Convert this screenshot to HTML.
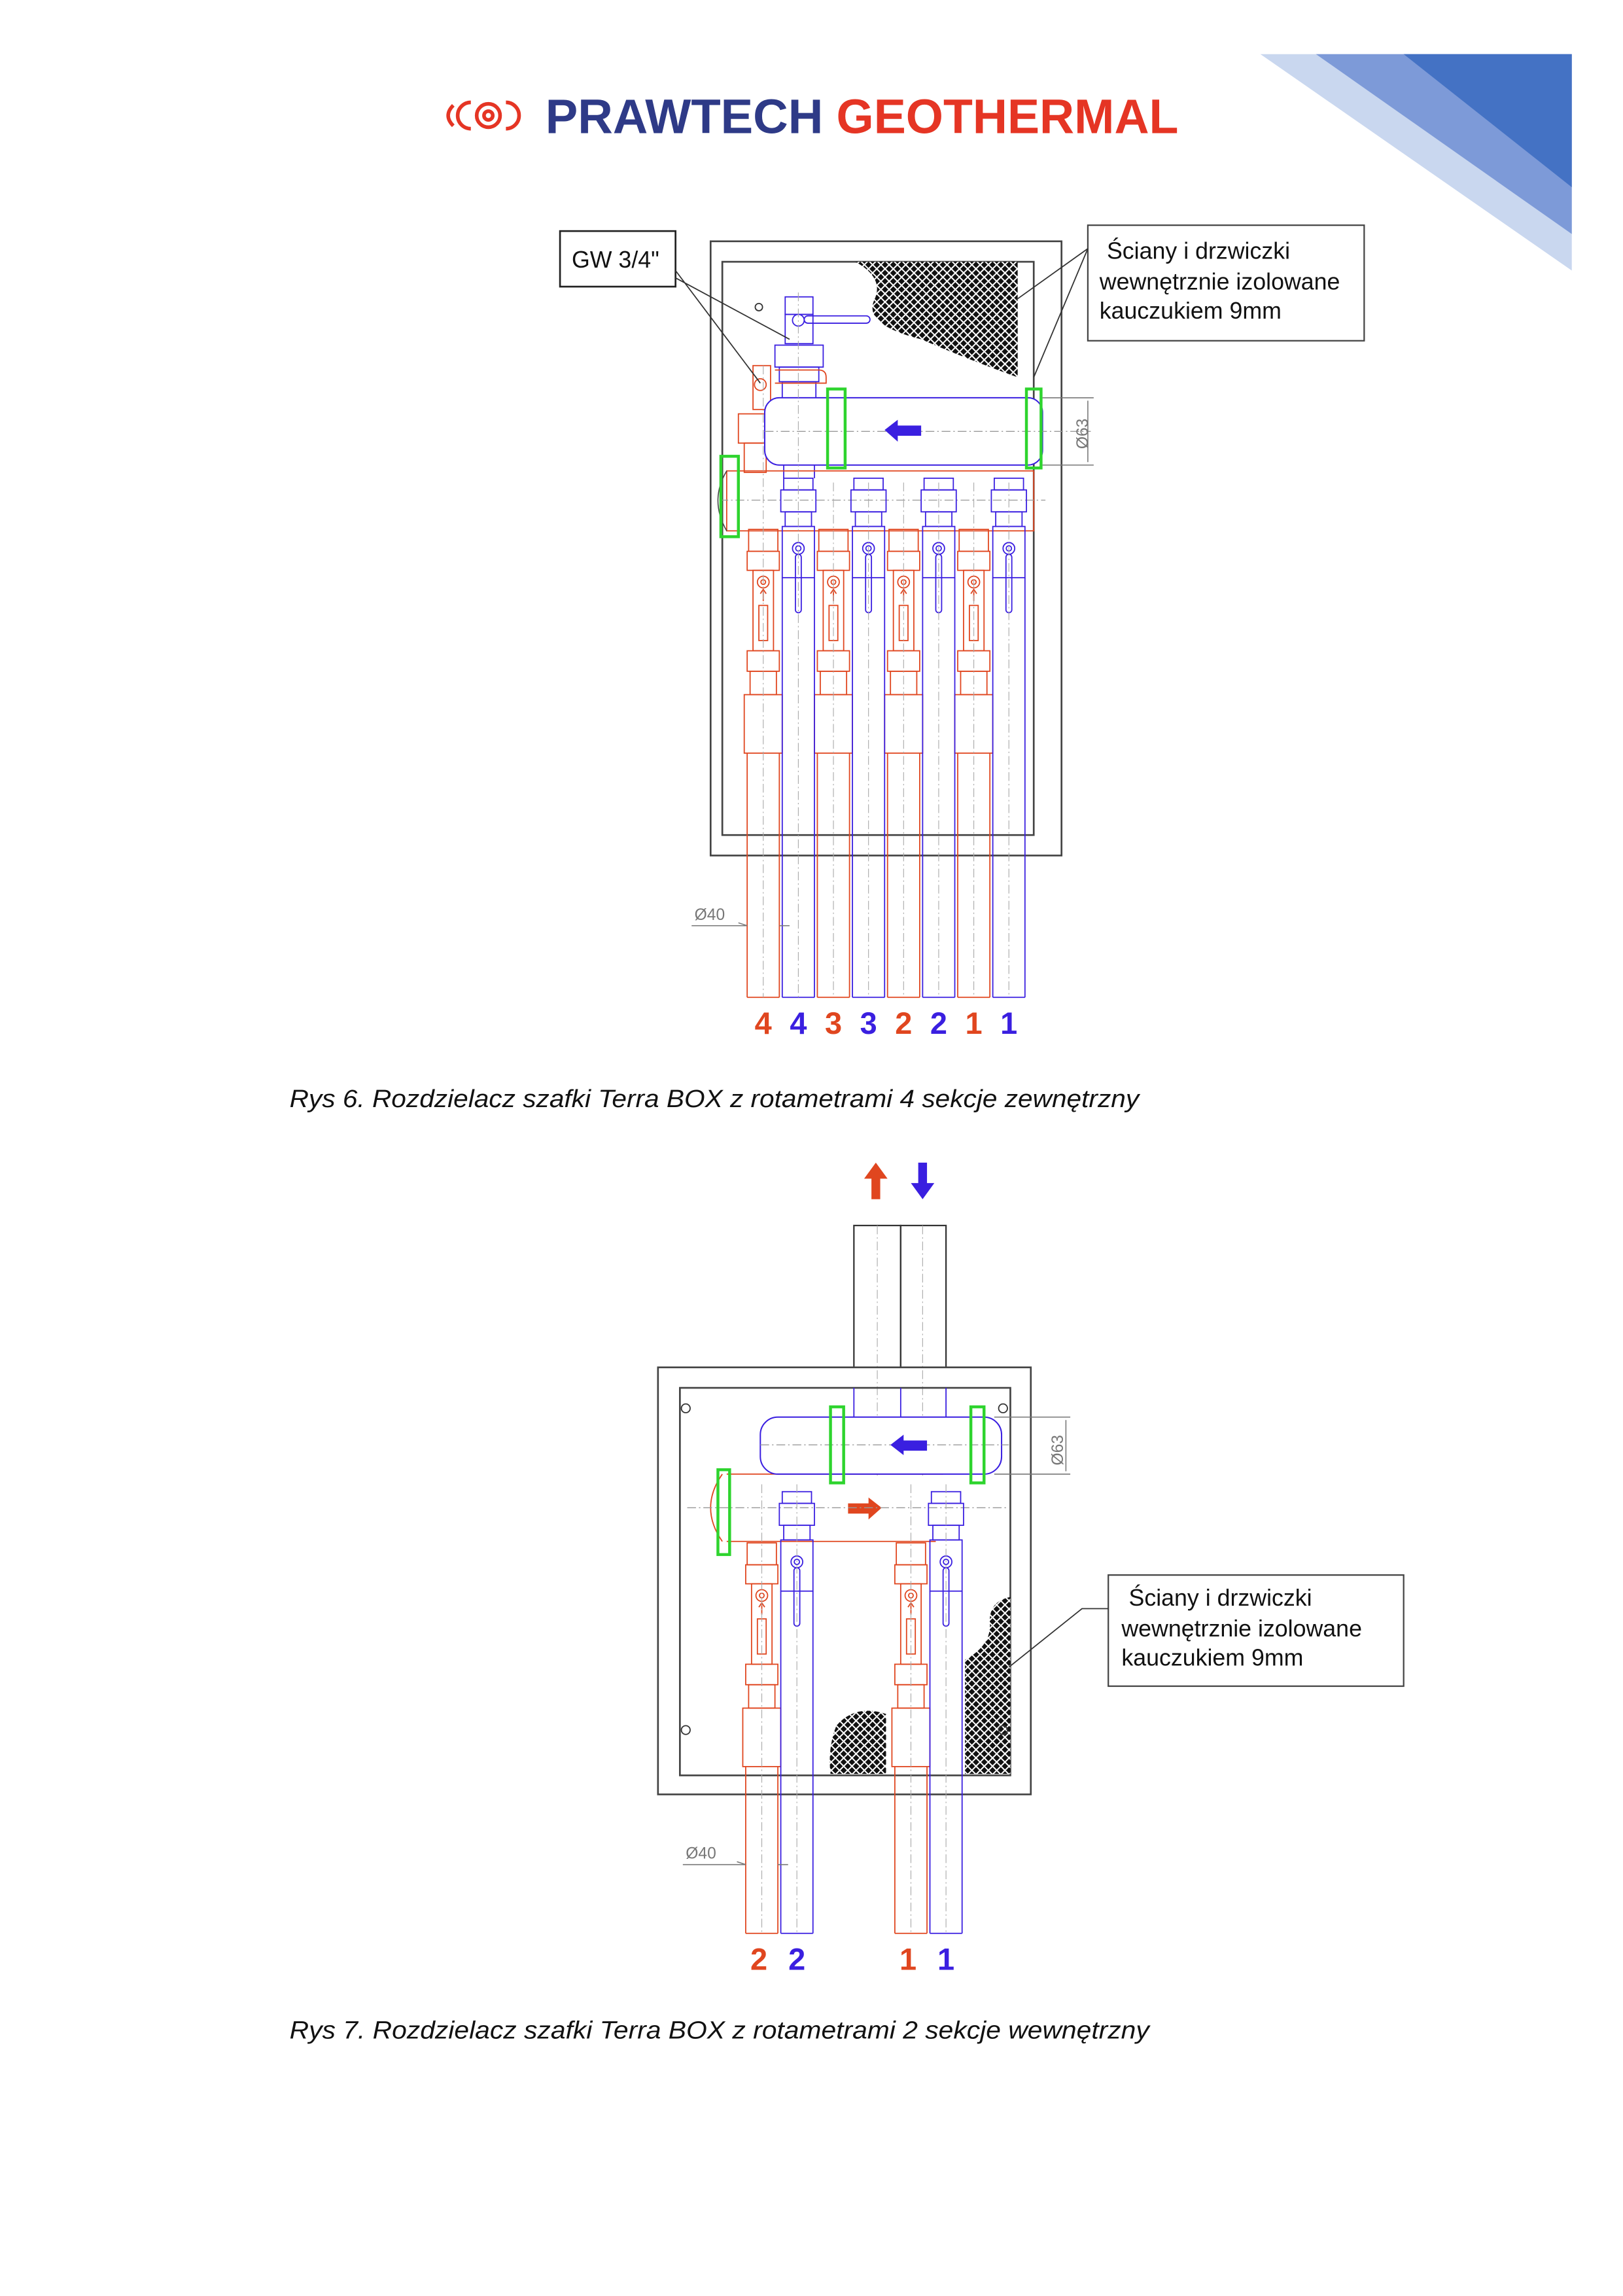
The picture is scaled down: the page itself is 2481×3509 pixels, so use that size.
<!DOCTYPE html>
<html><head><meta charset="utf-8"><style>html,body{margin:0;padding:0;background:#fff}svg{display:block}</style></head>
<body>
<svg width="2481" height="3509" viewBox="0 0 1110 1570" xmlns="http://www.w3.org/2000/svg" font-family="Liberation Sans, sans-serif">
<defs>
<pattern id="hatch" width="4" height="4" patternUnits="userSpaceOnUse" patternTransform="rotate(45)">
<rect width="4" height="4" fill="#111"/>
<path d="M0 2H4M2 0V4" stroke="#fff" stroke-width="0.9"/>
</pattern>
<g id="sec">
<g fill="none" stroke="#e0461f" stroke-width="0.8">
<rect x="-10" y="362" width="20" height="15"/>
<rect x="-11" y="377" width="22" height="13"/>
<rect x="-7" y="390" width="14" height="55"/>
<circle cx="0" cy="398" r="4"/><circle cx="0" cy="398" r="1.6"/>
<path d="M0 404V411M-2 406L0 403L2 406"/>
<rect x="-3" y="414" width="6" height="24"/>
<rect x="-11" y="445" width="22" height="14"/>
<rect x="-9" y="459" width="18" height="16"/>
<rect x="-13" y="475" width="26" height="40"/>
</g>
<g fill="none" stroke="#3a1fe0" stroke-width="0.8">
<rect x="14" y="327" width="20" height="8"/>
<rect x="12" y="335" width="24" height="15"/>
<rect x="15" y="350" width="18" height="10"/>
<rect x="13" y="360" width="22" height="35"/>
<circle cx="24" cy="375" r="4"/><circle cx="24" cy="375" r="1.8"/>
<rect x="22" y="379" width="4" height="40" rx="2"/>
</g>
</g>
</defs>

<!-- top right decoration -->
<polygon points="862,37 1075,37 1075,185" fill="#c9d7ef"/>
<polygon points="900,37 1075,37 1075,160" fill="#7d9ad8"/>
<polygon points="960,37 1075,37 1075,128" fill="#4472c4"/>

<!-- logo -->
<g fill="none" stroke="#e53524" stroke-width="2.5">
<path d="M322 70 A9 9 0 1 0 322 88"/>
<circle cx="334" cy="79" r="8"/>
<circle cx="334" cy="79" r="3"/>
<path d="M346 70 A9 9 0 1 1 346 88"/>
<path d="M310 72 Q303 79 310 86"/>
</g>
<text x="373" y="91" font-size="33" font-weight="bold" fill="#2e3a87" textLength="190" lengthAdjust="spacingAndGlyphs">PRAWTECH</text>
<text x="572" y="91" font-size="33" font-weight="bold" fill="#e53524" textLength="234" lengthAdjust="spacingAndGlyphs">GEOTHERMAL</text>

<!-- ================= DIAGRAM 1 ================= -->
<rect x="486" y="165" width="240" height="420" fill="none" stroke="#444" stroke-width="1.2"/>
<rect x="494" y="179" width="213" height="392" fill="none" stroke="#444" stroke-width="1.2"/>
<path d="M585 179 H696 V258 Q660 245 630 232 Q590 222 598 205 Q605 190 585 179Z" fill="url(#hatch)"/>
<!-- top ball valve -->
<g fill="none" stroke="#3a1fe0" stroke-width="0.8">
<rect x="537" y="203" width="19" height="12"/>
<rect x="537" y="215" width="19" height="20"/>
<circle cx="546" cy="219" r="4"/>
<rect x="550" y="216" width="45" height="5" rx="2.5"/>
<rect x="530" y="236" width="33" height="15"/>
<rect x="533" y="251" width="27" height="10"/>
<rect x="535" y="261" width="23" height="12"/>
<path d="M536 318V327M557 318V327"/>
</g>
<g fill="none" stroke="#e0461f" stroke-width="0.8">
<rect x="515" y="250" width="12" height="30"/>
<circle cx="520" cy="263" r="4"/>
<rect x="505" y="283" width="18" height="20"/>
<rect x="509" y="303" width="15" height="20"/>
<path d="M530 253H560Q565 253 565 258V262H530"/>
</g>
<circle cx="519" cy="210" r="2.5" fill="none" stroke="#333" stroke-width="0.8"/>
<!-- red manifold lower -->
<rect x="497" y="322" width="210" height="41" fill="none" stroke="#e0461f" stroke-width="0.8"/>
<path d="M497 322 Q485 342 497 363" fill="none" stroke="#444" stroke-width="0.7"/>
<!-- blue manifold -->
<rect x="523" y="272" width="190" height="46" rx="10" fill="#fff" stroke="#3a1fe0" stroke-width="0.9"/>
<path d="M523 295H746M492 342H715" stroke="#999" stroke-width="0.6" stroke-dasharray="6 2 1 2"/>
<polygon points="605,294 614,287 614,291 630,291 630,298 614,298 614,302" fill="#3a1fe0"/>
<rect x="566" y="266" width="12" height="54" fill="none" stroke="#2ed42e" stroke-width="2"/>
<rect x="702" y="266" width="10" height="54" fill="none" stroke="#2ed42e" stroke-width="2"/>
<rect x="493" y="312" width="12" height="55" fill="none" stroke="#2ed42e" stroke-width="2"/>
<!-- Ø63 -->
<path d="M713 272H748M713 318H748M744 274V316" stroke="#777" stroke-width="0.7" fill="none"/>
<text transform="translate(744,307) rotate(-90)" font-size="11" fill="#777">Ø63</text>
<!-- sections -->
<use href="#sec" x="522"/><use href="#sec" x="570"/><use href="#sec" x="618"/><use href="#sec" x="666"/>
<g fill="none" stroke-width="0.8">
<g stroke="#e0461f"><path d="M511 515V682M533 515V682M559 515V682M581 515V682M607 515V682M629 515V682M655 515V682M677 515V682M511 682H533M559 682H581M607 682H629M655 682H677"/></g>
<g stroke="#3a1fe0"><path d="M535 395V682M557 395V682M583 395V682M605 395V682M631 395V682M653 395V682M679 395V682M701 395V682M535 682H557M583 682H605M631 682H653M679 682H701"/></g>
</g>
<g stroke="#aaa" stroke-width="0.5" stroke-dasharray="6 2 1 2">
<path d="M522 250V682M546 200V682M570 330V682M594 330V682M618 330V682M642 330V682M666 330V682M690 330V682"/>
</g>
<!-- Ø40 -->
<path d="M473 633H511M511 633L505 631M533 633H540" stroke="#777" stroke-width="0.7" fill="none"/>
<text x="475" y="629" font-size="11" fill="#777">Ø40</text>
<!-- GW label -->
<rect x="383" y="158" width="79" height="38" fill="#fff" stroke="#222" stroke-width="1.2"/>
<text x="391" y="183" font-size="16" fill="#111">GW 3/4"</text>
<path d="M462 185L520 262M462 190L540 232" stroke="#333" stroke-width="0.8" fill="none"/>
<!-- walls label -->
<rect x="744" y="154" width="189" height="79" fill="#fff" stroke="#444" stroke-width="1"/>
<text font-size="16" fill="#111"><tspan x="757" y="177">Ściany i drzwiczki</tspan><tspan x="752" y="198">wewnętrznie izolowane</tspan><tspan x="752" y="218">kauczukiem 9mm</tspan></text>
<path d="M744 170L695 205M744 170L707 258" stroke="#333" stroke-width="0.8" fill="none"/>
<!-- numbers -->
<g font-size="21" font-weight="bold" text-anchor="middle">
<text x="522" y="707" fill="#e0461f">4</text><text x="546" y="707" fill="#3a1fe0">4</text>
<text x="570" y="707" fill="#e0461f">3</text><text x="594" y="707" fill="#3a1fe0">3</text>
<text x="618" y="707" fill="#e0461f">2</text><text x="642" y="707" fill="#3a1fe0">2</text>
<text x="666" y="707" fill="#e0461f">1</text><text x="690" y="707" fill="#3a1fe0">1</text>
</g>
<text x="198" y="757" font-size="17" font-style="italic" fill="#111" textLength="581" lengthAdjust="spacingAndGlyphs">Rys 6. Rozdzielacz szafki Terra BOX z rotametrami 4 sekcje zewnętrzny</text>

<!-- ================= DIAGRAM 2 ================= -->
<polygon points="599,795 607,806 602,806 602,820 596,820 596,806 591,806" fill="#e0461f"/>
<polygon points="631,820 639,809 634,809 634,795 628,795 628,809 623,809" fill="#3a1fe0"/>
<rect x="584" y="838" width="32" height="97" fill="none" stroke="#333" stroke-width="1"/>
<rect x="616" y="838" width="31" height="97" fill="none" stroke="#333" stroke-width="1"/>
<path d="M600 838V1010M631 838V1010" stroke="#aaa" stroke-width="0.5" stroke-dasharray="6 2 1 2"/>
<rect x="450" y="935" width="255" height="292" fill="none" stroke="#444" stroke-width="1.2"/>
<rect x="465" y="949" width="226" height="265" fill="none" stroke="#444" stroke-width="1.2"/>
<path d="M584 949V969M616 949V969M647 949V969" stroke="#3a1fe0" stroke-width="0.8"/>
<path d="M606 1213 V1172 Q585 1165 572 1180 Q566 1195 568 1213Z" fill="url(#hatch)"/>
<path d="M691 1092 Q676 1095 677 1110 Q678 1125 660 1135 V1213 H691Z" fill="url(#hatch)"/>
<g fill="none" stroke="#333" stroke-width="0.8">
<circle cx="469" cy="963" r="3"/><circle cx="686" cy="963" r="3"/><circle cx="469" cy="1183" r="3"/><circle cx="686" cy="1183" r="3"/>
</g>
<!-- red manifold -->
<path d="M497 1008H645M497 1054H640" stroke="#e0461f" stroke-width="0.8"/>
<path d="M494 1008 Q478 1031 494 1054" fill="none" stroke="#e0461f" stroke-width="0.8"/>
<polygon points="603,1031 594,1024 594,1028 580,1028 580,1035 594,1035 594,1039" fill="#e0461f"/>
<!-- blue manifold -->
<rect x="520" y="969" width="165" height="39" rx="12" fill="#fff" stroke="#3a1fe0" stroke-width="0.9"/>
<path d="M520 988H690M470 1031H690" stroke="#999" stroke-width="0.6" stroke-dasharray="6 2 1 2"/>
<polygon points="609,988 618,981 618,985 634,985 634,992 618,992 618,995" fill="#3a1fe0"/>
<rect x="568" y="962" width="9" height="52" fill="none" stroke="#2ed42e" stroke-width="2"/>
<rect x="664" y="962" width="9" height="52" fill="none" stroke="#2ed42e" stroke-width="2"/>
<rect x="491" y="1005" width="8" height="58" fill="none" stroke="#2ed42e" stroke-width="2"/>
<path d="M680 969H732M680 1008H732M729 971V1006" stroke="#777" stroke-width="0.7" fill="none"/>
<text transform="translate(727,1002) rotate(-90)" font-size="11" fill="#777">Ø63</text>
<!-- sections -->
<use href="#sec" x="521" y="693"/><use href="#sec" x="623" y="693"/>
<g fill="none" stroke-width="0.8">
<g stroke="#e0461f"><path d="M510 1208V1322M532 1208V1322M612 1208V1322M634 1208V1322M510 1322H532M612 1322H634"/></g>
<g stroke="#3a1fe0"><path d="M534 1088V1322M556 1088V1322M636 1088V1322M658 1088V1322M534 1322H556M636 1322H658"/></g>
</g>
<g stroke="#aaa" stroke-width="0.5" stroke-dasharray="6 2 1 2">
<path d="M521 1015V1322M545 1015V1322M623 1015V1322M647 1015V1322"/>
</g>
<path d="M467 1275H510M510 1275L504 1273M532 1275H539" stroke="#777" stroke-width="0.7" fill="none"/>
<text x="469" y="1271" font-size="11" fill="#777">Ø40</text>
<rect x="758" y="1077" width="202" height="76" fill="#fff" stroke="#444" stroke-width="1"/>
<text font-size="16" fill="#111"><tspan x="772" y="1098">Ściany i drzwiczki</tspan><tspan x="767" y="1119">wewnętrznie izolowane</tspan><tspan x="767" y="1139">kauczukiem 9mm</tspan></text>
<path d="M758 1100L740 1100L690 1140" stroke="#333" stroke-width="0.8" fill="none"/>
<g font-size="21" font-weight="bold" text-anchor="middle">
<text x="519" y="1347" fill="#e0461f">2</text><text x="545" y="1347" fill="#3a1fe0">2</text>
<text x="621" y="1347" fill="#e0461f">1</text><text x="647" y="1347" fill="#3a1fe0">1</text>
</g>
<text x="198" y="1394" font-size="17" font-style="italic" fill="#111" textLength="588" lengthAdjust="spacingAndGlyphs">Rys 7. Rozdzielacz szafki Terra BOX z rotametrami 2 sekcje wewnętrzny</text>
</svg>
</body></html>
